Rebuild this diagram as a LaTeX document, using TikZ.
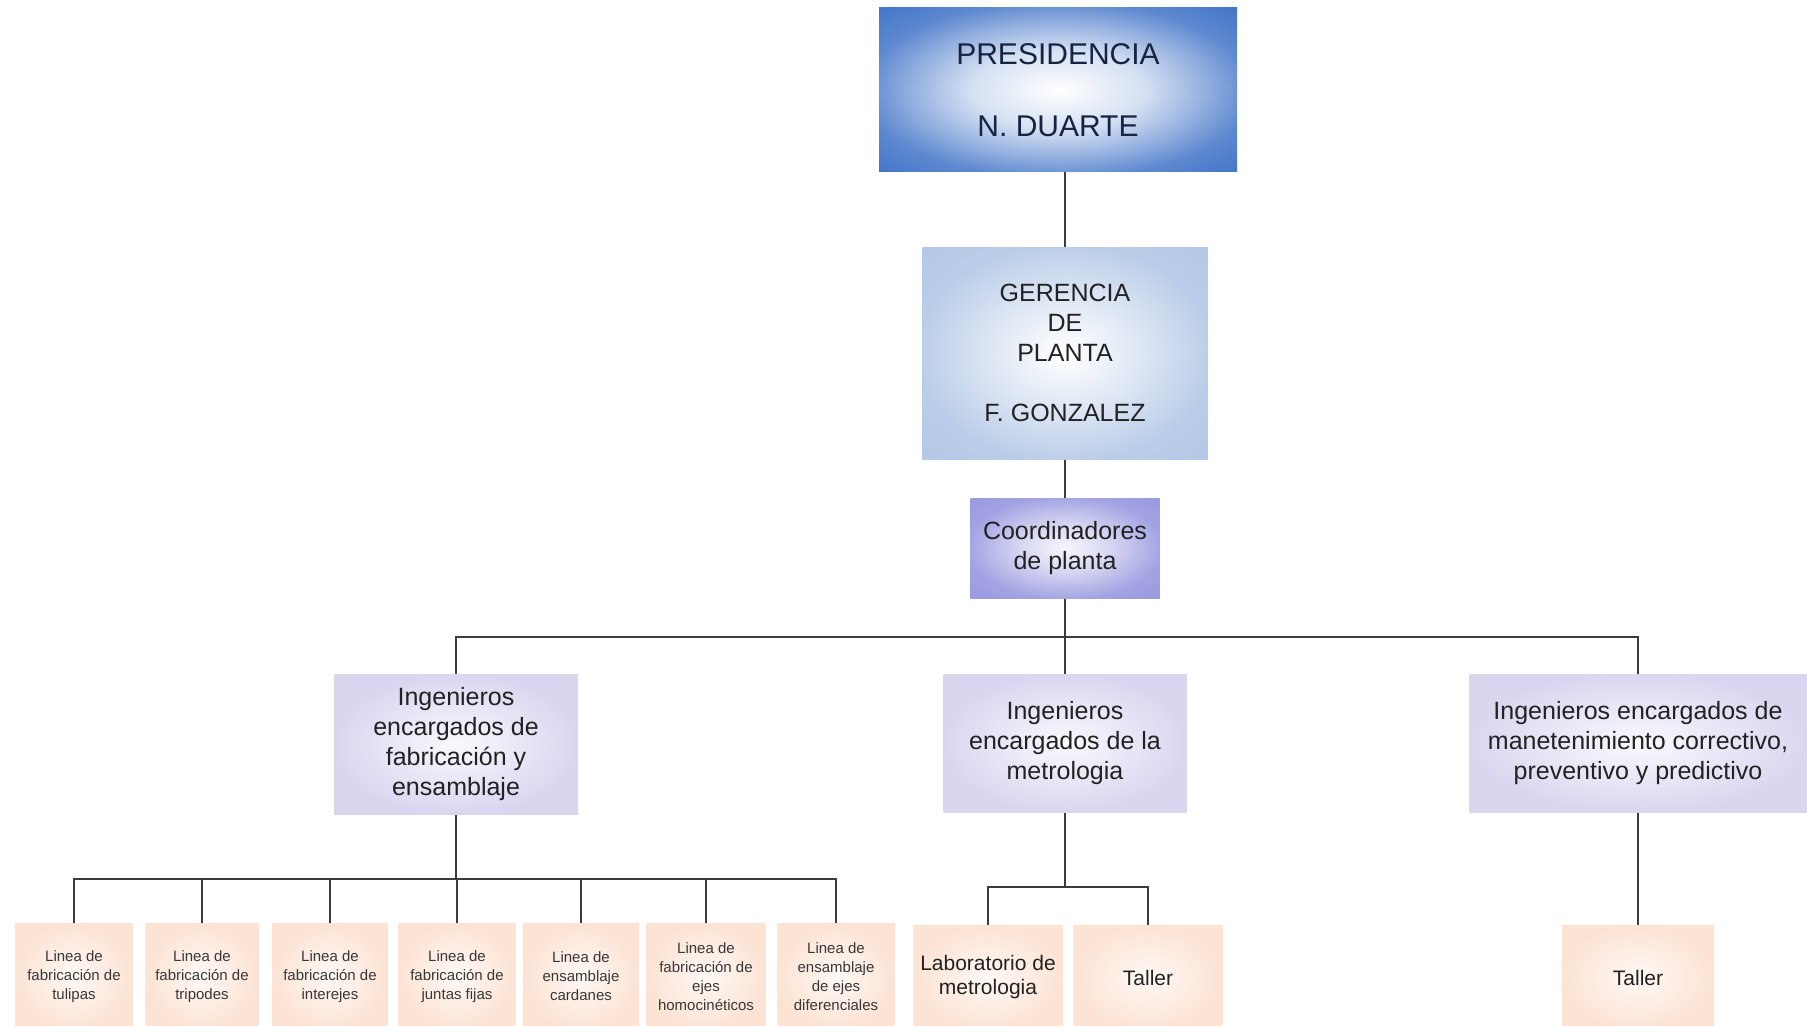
\documentclass[tikz,border=0pt]{standalone}
\usepackage{fontspec}
\setmainfont{Liberation Sans}

% Box colours
\definecolor{presblue}{RGB}{66,116,200}
\definecolor{presink}{RGB}{22,36,66}
\definecolor{gerblue}{RGB}{180,200,230}
\definecolor{coordpurple}{RGB}{152,152,224}
\definecolor{ingpurple}{RGB}{218,214,240}
\definecolor{peach}{RGB}{252,227,212}
\definecolor{ink}{RGB}{34,34,34}
\definecolor{wire}{RGB}{60,60,60}

% Radial fills: radius 25bp reaches the middle of each side of the box
\pgfdeclareradialshading{presshade}{\pgfpointorigin}{color(0bp)=(white); color(12bp)=(presblue!22!white); color(20bp)=(presblue!55!white); color(27bp)=(presblue!85!white); color(36bp)=(presblue); color(50bp)=(presblue)}
\pgfdeclareradialshading{gershade}{\pgfpointorigin}{color(0bp)=(white); color(12bp)=(gerblue!40!white); color(26bp)=(gerblue!92!white); color(36bp)=(gerblue); color(50bp)=(gerblue)}
\pgfdeclareradialshading{coordshade}{\pgfpointorigin}{color(0bp)=(coordpurple!8!white); color(12bp)=(coordpurple!40!white); color(26bp)=(coordpurple!90!white); color(36bp)=(coordpurple); color(50bp)=(coordpurple)}
\pgfdeclareradialshading{ingshade}{\pgfpointorigin}{color(0bp)=(ingpurple!15!white); color(25bp)=(ingpurple); color(50bp)=(ingpurple)}
\pgfdeclareradialshading{peachshade}{\pgfpointorigin}{color(0bp)=(peach!25!white); color(25bp)=(peach); color(50bp)=(peach)}

\tikzset{
  wh/.style 2 args={minimum width=#1*0.4pt, minimum height=#2*0.4pt},
  box/.style={inner sep=0pt, align=center, text=ink},
  presbox/.style={box, shading=presshade, text=presink, font=\fontsize{12pt}{14.4pt}\selectfont},
  gerbox/.style={box, shading=gershade, font=\fontsize{10pt}{12pt}\selectfont},
  coordbox/.style={box, shading=coordshade, font=\fontsize{10pt}{12pt}\selectfont},
  ingbox/.style={box, shading=ingshade, font=\fontsize{10pt}{12pt}\selectfont},
  linebox/.style={box, shading=peachshade, text=ink!90, font=\fontsize{6pt}{7.6pt}\selectfont},
  unitbox/.style={box, shading=peachshade, font=\fontsize{8.4pt}{9.6pt}\selectfont},
  conn/.style={draw=wire, line width=1.1pt}
}

\begin{document}
\begin{tikzpicture}[x=0.4pt, y=-0.4pt]
\clip (0,0) rectangle (1807,1026);
\fill[white] (0,0) rectangle (1807,1026);

% Management chain
\node[presbox, wh={358}{164}] (pres) at (1058,90) {PRESIDENCIA\\[14.4pt]N. DUARTE};
\node[gerbox, wh={285}{212}] (ger) at (1065,353) {GERENCIA\\DE\\PLANTA\\[12pt]F. GONZALEZ};
\node[coordbox, wh={189}{100}] (coord) at (1065,548) {Coordinadores\\de planta};

% Engineering groups
\node[ingbox, wh={244}{140}] (ingfab) at (456,744) {Ingenieros\\encargados de\\fabricación y\\ensamblaje};
\node[ingbox, wh={243}{138}] (ingmet) at (1065,743) {Ingenieros\\encargados de la\\metrologia};
\node[ingbox, wh={337}{138}] (ingman) at (1638,743) {Ingenieros encargados de\\manetenimiento correctivo,\\preventivo y predictivo};

% Production lines
\node[linebox, wh={118}{107}] (f1) at (74,976.5) {Linea de\\fabricación de\\tulipas};
\node[linebox, wh={113}{107}] (f2) at (202,976.5) {Linea de\\fabricación de\\tripodes};
\node[linebox, wh={115}{107}] (f3) at (330,976.5) {Linea de\\fabricación de\\interejes};
\node[linebox, wh={117}{107}] (f4) at (457,976.5) {Linea de\\fabricación de\\juntas fijas};
\node[linebox, wh={116}{107}] (f5) at (581,976.5) {Linea de\\ensamblaje\\cardanes};
\node[linebox, wh={119}{107}] (f6) at (706,976.5) {Linea de\\fabricación de\\ejes\\homocinéticos};
\node[linebox, wh={117}{107}] (f7) at (836,976.5) {Linea de\\ensamblaje\\de ejes\\diferenciales};

% Metrology and maintenance units
\node[unitbox, wh={150}{105}] (lab) at (988,977.5) {Laboratorio de\\metrologia};
\node[unitbox, wh={149}{105}] (tal) at (1148,977.5) {Taller};
\node[unitbox, wh={152}{105}] (tal2) at (1638,977.5) {Taller};

% Bus levels
\coordinate (mainbus) at (1065,637);
\coordinate (fabbus) at (456,879);
\coordinate (metbus) at (1065,887);

% Connectors
\draw[conn] (ger.north |- pres.south) -- (ger.north);
\draw[conn] (ger.south) -- (coord.north);
\draw[conn] (coord.south) -- (ingmet.north);
\draw[conn] (ingfab.north) |- (ingman.north |- mainbus) -- (ingman.north);

\draw[conn] (ingfab.south) -- (fabbus);
\draw[conn] (f1.north) |- (f7.north |- fabbus) -- (f7.north);
\foreach \n in {f2,f3,f4,f5,f6}
  \draw[conn] (\n.north) -- (\n.north |- fabbus);

\draw[conn] (ingmet.south) -- (metbus);
\draw[conn] (lab.north) |- (tal.north |- metbus) -- (tal.north);

\draw[conn] (ingman.south) -- (tal2.north);
\end{tikzpicture}
\end{document}
